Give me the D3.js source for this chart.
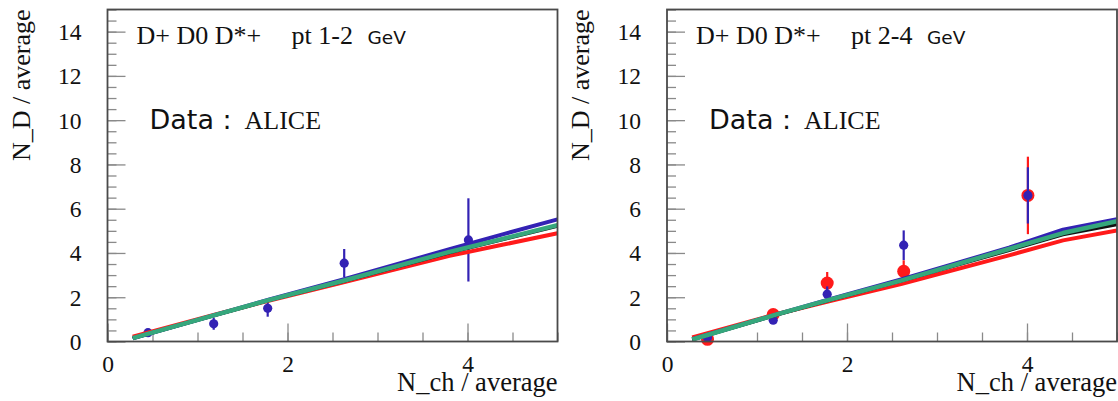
<!DOCTYPE html>
<html>
<head>
<meta charset="utf-8">
<script src="https://cdn.jsdelivr.net/npm/d3@7"></script>
<style>
  body { margin: 0; background: #fff; }
  svg { display: block; }
  .serif { font-family: "Liberation Serif", "Times New Roman", serif; }
  .sans { font-family: "DejaVu Sans", sans-serif; }
</style>
</head>
<body>
<svg id="chart"></svg>
<script>
// ----- values ----- //
const ptBins = ["pt 1-2", "pt 2-4"];
const xTickValues = [0, 2, 4];
const yTickValues = [0, 2, 4, 6, 8, 10, 12, 14];

// ALICE points, same multiplicity bins in both panels
const dataX = [0.45, 1.18, 1.78, 2.63, 4.01];
const blueY_pt12 = [0.40, 0.80, 1.50, 3.54, 4.59];
const blueErr_pt12 = [0.08, 0.27, 0.38, 0.64, 1.88];
const blueY_pt24 = [0.18, 0.96, 2.14, 4.35, 6.60];
const blueErr_pt24 = [0.06, 0.10, 0.35, 0.67, 1.27];
const redY_pt24 = [0.10, 1.22, 2.64, 3.17, 6.60];
const redErr_pt24 = [0.10, 0.15, 0.50, 0.50, 1.75];

// model curves
const modelX = [0.28, 1.2, 1.8, 2.6, 3.8, 4.4, 5.0];
const red_pt12 = [0.22, 1.22, 1.85, 2.65, 3.87, 4.38, 4.89];
const blue_pt12 = [0.14, 1.20, 1.90, 2.78, 4.17, 4.85, 5.52];
const black_pt12 = [0.14, 1.19, 1.87, 2.70, 4.02, 4.62, 5.22];
const green_pt12 = [0.15, 1.20, 1.88, 2.72, 4.05, 4.65, 5.26];
const red_pt24 = [0.18, 1.22, 1.82, 2.60, 3.89, 4.57, 5.02];
const blue_pt24 = [0.10, 1.20, 1.90, 2.80, 4.24, 5.05, 5.52];
const black_pt24 = [0.09, 1.18, 1.86, 2.74, 4.12, 4.83, 5.29];
const green_pt24 = [0.09, 1.20, 1.88, 2.75, 4.18, 4.90, 5.44];

const colors = {red: "#ff1a1a", blue: "#3322b4", black: "#111111", green: "#35a77c"};

const width = 1118, height = 401;
const panelW = 450, panelH = 332, panelTop = 9.5;
const panelLeft = [107.5, 667];

const svg = d3.select("#chart")
    .attr("width", width)
    .attr("height", height)
    .attr("viewBox", [0, 0, width, height]);

svg.append("rect").attr("width", width).attr("height", height).attr("fill", "#fff");

const x = d3.scaleLinear().domain([0, 5]).range([0, panelW]);
const y = d3.scaleLinear().domain([0, 15]).range([panelH, 0]);

// grey inward ticks, no domain line (the frame is drawn separately)
const tickStyle = a => a
    .call(s => s.select(".domain").remove())
    .call(s => s.selectAll("line").attr("stroke", "#8a8a8a").attr("stroke-width", 1.3));

function drawPanel(i, pt, curves, points) {
    const g = svg.append("g")
        .attr("transform", `translate(${panelLeft[i]},${panelTop})`);

    g.append("clipPath").attr("id", "clip" + i)
        .append("rect").attr("width", panelW).attr("height", panelH);

    // minor ticks every 0.5
    g.append("g")
        .call(d3.axisLeft(y).tickValues(d3.range(0, 15.01, 0.5)).tickSize(-9).tickFormat(""))
        .call(tickStyle);
    g.append("g")
        .attr("transform", `translate(0,${panelH})`)
        .call(d3.axisBottom(x).tickValues(d3.range(0, 5.01, 0.5)).tickSize(-9).tickFormat(""))
        .call(tickStyle);

    // major ticks + labels
    g.append("g")
        .call(d3.axisLeft(y).tickValues(yTickValues).tickSize(-18).tickPadding(26).tickFormat(d3.format("d")))
        .call(tickStyle)
        .call(a => a.selectAll("text")
            .style("font-family", "'Liberation Serif', 'Times New Roman', serif")
            .style("font-size", "23.5px").attr("fill", "#111").attr("dy", "0.34em"));
    g.append("g")
        .attr("transform", `translate(0,${panelH})`)
        .call(d3.axisBottom(x).tickValues(xTickValues).tickSize(-18).tickPadding(13.5).tickFormat(d3.format("d")))
        .call(tickStyle)
        .call(a => a.selectAll("text")
            .style("font-family", "'Liberation Serif', 'Times New Roman', serif")
            .style("font-size", "23.5px").attr("fill", "#111"));

    // data points with error bars
    points.forEach(p => {
        const pg = g.append("g");
        pg.selectAll("line")
            .data(dataX)
            .join("line")
            .attr("x1", d => x(d)).attr("x2", d => x(d))
            .attr("y1", (d, k) => y(p.y[k] + p.err[k]))
            .attr("y2", (d, k) => y(p.y[k] - p.err[k]))
            .attr("stroke", p.color)
            .attr("stroke-width", 2.2);
        pg.selectAll("circle")
            .data(dataX)
            .join("circle")
            .attr("cx", d => x(d))
            .attr("cy", (d, k) => y(p.y[k]))
            .attr("r", p.r)
            .attr("fill", p.color);
    });

    // model curves
    const line = d3.line().x(d => x(d[0])).y(d => y(d[1]));
    g.append("g")
        .attr("clip-path", `url(#clip${i})`)
        .selectAll("path")
        .data(curves)
        .join("path")
        .attr("d", c => line(d3.zip(modelX, c.values)))
        .attr("fill", "none")
        .attr("stroke", c => c.color)
        .attr("stroke-width", c => c.width)
        .attr("stroke-linejoin", "round");

    // frame
    g.append("rect")
        .attr("width", panelW).attr("height", panelH)
        .attr("fill", "none")
        .attr("stroke", "#4a4a4a")
        .attr("stroke-width", 1.8);

    // labels inside the frame
    const t = g.append("text")
        .attr("x", 29).attr("y", 34)
        .attr("fill", "#111");
    t.append("tspan")
        .attr("class", "serif")
        .style("font-size", "26px")
        .text("D+ D0 D*+");
    t.append("tspan")
        .attr("x", 184)
        .attr("class", "serif")
        .style("font-size", "26px")
        .text(pt);
    t.append("tspan")
        .attr("x", 260)
        .attr("class", "sans")
        .style("font-size", "18.5px")
        .text("GeV");

    const d = g.append("text")
        .attr("x", 42).attr("y", 119)
        .attr("fill", "#111");
    d.append("tspan")
        .attr("class", "sans")
        .style("font-size", "27px")
        .text("Data :");
    d.append("tspan")
        .attr("x", 137)
        .attr("class", "serif")
        .style("font-size", "26px")
        .text("ALICE");

    // axis titles
    g.append("text")
        .attr("x", panelW)
        .attr("y", panelH + 49)
        .attr("text-anchor", "end")
        .attr("class", "serif")
        .style("font-size", "26.5px")
        .attr("fill", "#111")
        .text("N_ch / average");
    g.append("text")
        .attr("transform", `translate(-78,0) rotate(-90)`)
        .attr("text-anchor", "end")
        .attr("class", "serif")
        .style("font-size", "26px")
        .attr("fill", "#111")
        .text("N_D / average");
}

drawPanel(0, ptBins[0], [
    {color: colors.red, width: 4, values: red_pt12},
    {color: colors.blue, width: 4, values: blue_pt12},
    {color: colors.black, width: 3.5, values: black_pt12},
    {color: colors.green, width: 4.5, values: green_pt12}
], [
    {color: colors.blue, r: 4.6, y: blueY_pt12, err: blueErr_pt12}
]);

drawPanel(1, ptBins[1], [
    {color: colors.red, width: 4, values: red_pt24},
    {color: colors.blue, width: 4, values: blue_pt24},
    {color: colors.black, width: 3.5, values: black_pt24},
    {color: colors.green, width: 4.5, values: green_pt24}
], [
    {color: colors.red, r: 6.5, y: redY_pt24, err: redErr_pt24},
    {color: colors.blue, r: 4.6, y: blueY_pt24, err: blueErr_pt24}
]);
</script>
</body>
</html>
